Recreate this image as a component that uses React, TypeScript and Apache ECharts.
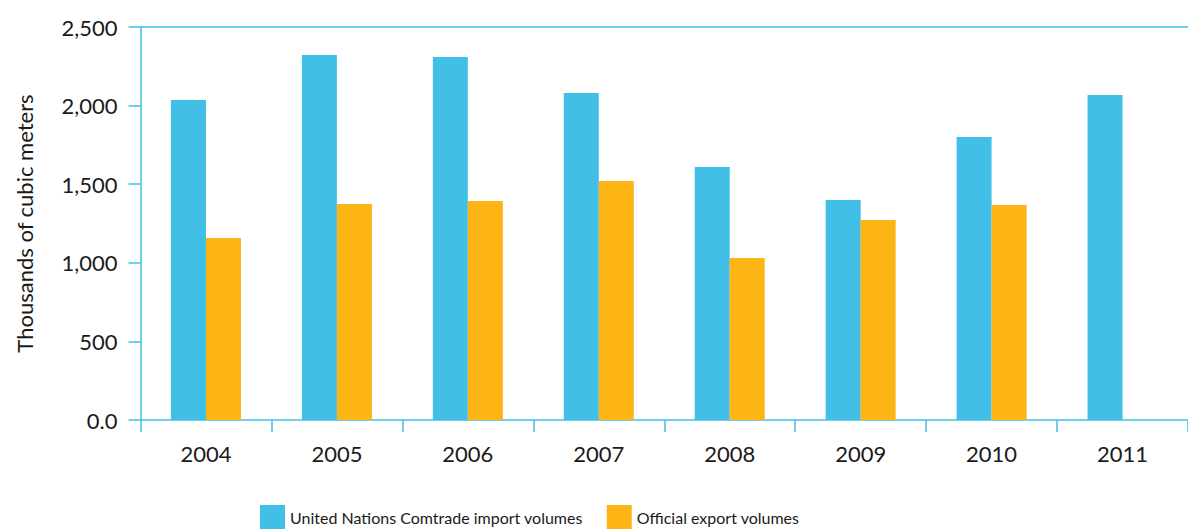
import React, { useEffect, useRef } from "react";
import * as echarts from "echarts";

const years = ["2004", "2005", "2006", "2007", "2008", "2009", "2010", "2011"];
const importVolumes = [2036, 2322, 2309, 2080, 1609, 1400, 1800, 2067];
const exportVolumes = [1158, 1374, 1393, 1520, 1030, 1272, 1368, null];
const seriesNames = ["United Nations Comtrade import volumes", "Official export volumes"];

const BLUE = "#41bfe7";
const ORANGE = "#fdb415";
const FONT = "Lato";

export default function App() {
  const ref = useRef<HTMLDivElement>(null);
  useEffect(() => {
    if (!ref.current) return;
    const chart = echarts.init(ref.current, null, { renderer: "svg" });
    chart.setOption({
      animation: false,
      textStyle: { fontFamily: FONT },
      grid: { left: 140.5, right: -10, top: 27, bottom: 109, containLabel: false },
      legend: {
        top: 505,
        left: 260,
        padding: 0,
        itemWidth: 25,
        itemHeight: 24,
        itemGap: 24,
        icon: "rect",
        textStyle: { fontFamily: FONT, fontSize: 16, color: "#1a1a1a" },
        data: seriesNames,
      },
      xAxis: {
        type: "category",
        data: years,
        axisLine: { lineStyle: { color: BLUE, width: 1.5 } },
        axisTick: { show: true, length: 12, lineStyle: { color: BLUE, width: 1.5 } },
        axisLabel: { color: "#1a1a1a", fontSize: 22, margin: 22, fontFamily: FONT },
      },
      yAxis: {
        type: "value",
        min: 0,
        max: 2500,
        interval: 500,
        name: "Thousands of cubic meters",
        nameLocation: "middle",
        nameGap: 105,
        nameRotate: 90,
        nameTextStyle: { color: "#1a1a1a", fontSize: 22, fontFamily: FONT },
        axisLine: { show: true, lineStyle: { color: BLUE, width: 1.5 } },
        axisTick: { show: true, length: 12, lineStyle: { color: BLUE, width: 1.5 } },
        axisLabel: {
          color: "#1a1a1a",
          fontSize: 22,
          margin: 23,
          fontFamily: FONT,
          formatter: (v: number) => (v === 0 ? "0.0" : v.toLocaleString("en-US")),
        },
        splitLine: {
          show: true,
          lineStyle: {
            color: ["transparent", "transparent", "transparent", "transparent", "transparent", BLUE],
            width: 1.5,
          },
        },
      },
      series: [
        {
          name: seriesNames[0],
          type: "bar",
          data: importVolumes,
          barWidth: 35,
          barGap: "0%",
          itemStyle: { color: BLUE },
        },
        {
          name: seriesNames[1],
          type: "bar",
          data: exportVolumes,
          barWidth: 35,
          itemStyle: { color: ORANGE },
        },
      ],
    });
    return () => chart.dispose();
  }, []);
  return (
    <div
      ref={ref}
      style={{ position: "absolute", left: 0, top: 0, width: 1188, height: 529, background: "#fff" }}
    />
  );
}
